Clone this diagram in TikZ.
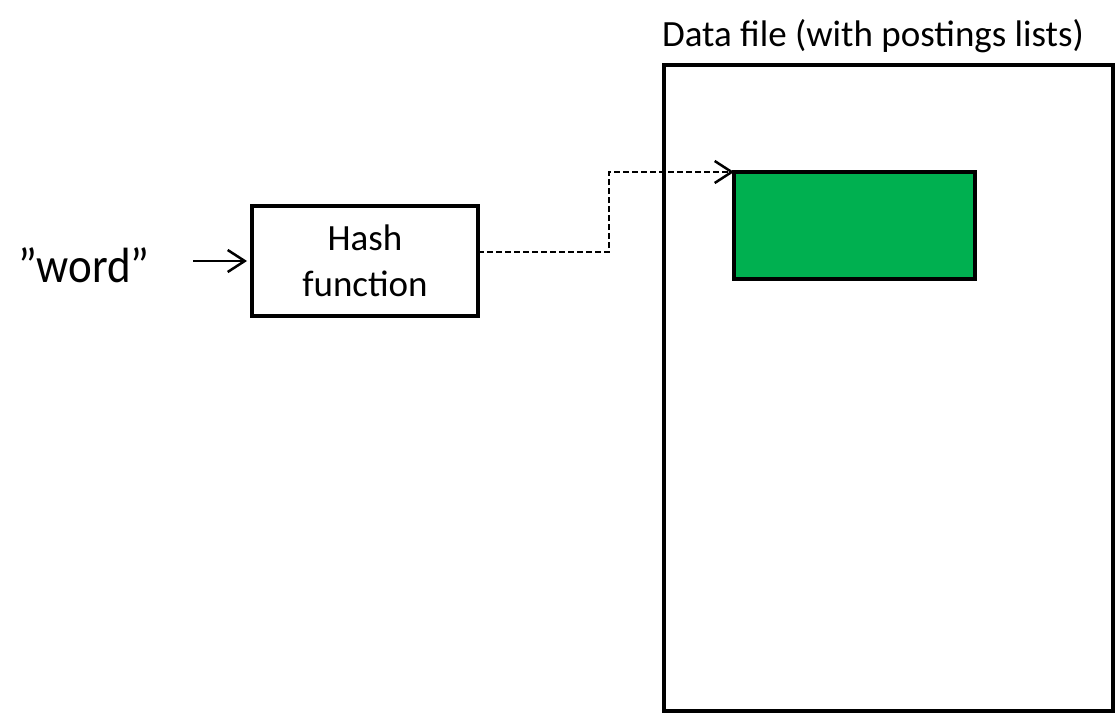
\documentclass[tikz,border=0pt]{standalone}
\usepackage{fontspec}
\setmainfont{Carlito}
\usetikzlibrary{arrows.meta,calc}
\definecolor{blockgreen}{HTML}{00B050}
\tikzset{
  frame/.style={draw=black, line width=4.5pt, inner sep=0pt, outer sep=0pt},
  label36/.style={font=\fontsize{37}{44}\selectfont, inner sep=0pt},
  link/.style={line width=2pt, -{Straight Barb[length=17pt,width=22pt,line width=2.5pt]}},
}
\begin{document}
\begin{tikzpicture}[x=1pt,y=-1pt]
\useasboundingbox (0,0) rectangle (1115,714);
% data file with its postings block
\node[frame, minimum width=449, minimum height=646] (file) at (888.5,388) {};
\node[frame, fill=blockgreen, minimum width=241, minimum height=107] (block) at (854.5,225.5) {};
\node[label36] (filelabel) at (873,36) {Data file (with postings lists)};
% hash function
\node[frame, line width=4pt, minimum width=226, minimum height=110, align=center, label36] (hash) at (365,261) {Hash\\[2pt]function};
\node[font=\fontsize{45}{54}\selectfont, yscale=1.1, inner sep=0pt] (word) at (84,265) {”word”};
\coordinate (in) at (193,261);
\draw[link, shorten >=5pt] (in) -- (hash.west |- in);
% lookup into the data file
\coordinate (out) at ([yshift=9pt]hash.east);
\coordinate (bend) at (609,252);
\draw[link, dash pattern=on 6pt off 3pt] (out) -- (bend) |- (block.north west);
\end{tikzpicture}
\end{document}
